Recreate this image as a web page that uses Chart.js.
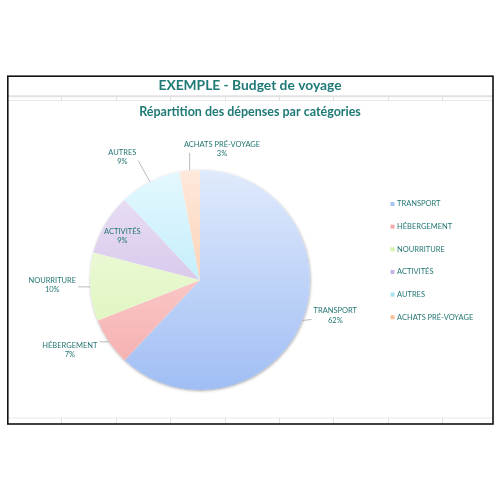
<!DOCTYPE html>
<html>
<head>
<meta charset="utf-8">
<script src="https://cdn.jsdelivr.net/npm/chart.js@4"></script>
<style>
html,body{margin:0;padding:0;background:#fff;}
#wrap{width:500px;height:500px;}
</style>
</head>
<body>
<div id="wrap"><canvas id="c" width="500" height="500"></canvas></div>
<script>
// ---- data ----
const chartTitle = "EXEMPLE - Budget de voyage";
const chartSubtitle = "Répartition des dépenses par catégories";
const categories = ["TRANSPORT", "HÉBERGEMENT", "NOURRITURE", "ACTIVITÉS", "AUTRES", "ACHATS PRÉ-VOYAGE"];
const shares = [62, 7, 10, 9, 9, 3];

// ---- styles ----
const topColors = ["#e0eafc", "#fde2e2", "#f5fce9", "#ece3f6", "#e4f8fe", "#fee9dc"];
const bottomColors = ["#a0bef4", "#f5aaaa", "#d7f3b0", "#c6b2e3", "#a6e5f8", "#f8bd95"];
const legendColors = ["#a9c4f0", "#f4a9a9", "#d4f2a6", "#c7b5e2", "#a6e3f4", "#f8bf98"];
const textColor = "#237673";
const titleColor = "#1f7a76";
const FONT = "Lato";
const labelPlace = [
  {out: 28, dx: 7, dy: -15},
  {out: 28, dx: -16, dy: -7.5},
  {out: 28, dx: -10, dy: -3.5},
  {inside: 0.82, dx: 0, dy: 2},
  {out: 28, dx: -15, dy: 0},
  {out: 28, dx: 35, dy: 6.5}
];
const PIE_R = 110;
const RIGHT_RESERVE = 100;

function sliceFill(ctx) {
  const i = ctx.dataIndex;
  const chart = ctx.chart;
  const ca = chart.chartArea;
  if (!ca || i === undefined) return legendColors[i || 0];
  const cy = (ca.top + ca.bottom) / 2;
  const g = chart.ctx.createLinearGradient(0, cy - PIE_R, 0, cy + PIE_R);
  g.addColorStop(0, topColors[i]);
  g.addColorStop(1, bottomColors[i]);
  return g;
}

// reserves space at the right (legend column) without shifting the titles
const reservePlugin = {
  id: 'rightReserve',
  beforeInit(chart) {
    const box = {
      position: 'right', weight: 0, fullSize: false, options: {},
      width: RIGHT_RESERVE, height: 0, left: 0, top: 0, right: 0, bottom: 0,
      update(maxWidth, maxHeight) { this.width = RIGHT_RESERVE; this.height = maxHeight; },
      isHorizontal() { return false; },
      draw() {}
    };
    Chart.layouts.addBox(chart, box);
  }
};

const framePlugin = {
  id: 'frame',
  beforeDraw(chart) {
    const c = chart.ctx;
    c.save();
    c.fillStyle = '#ffffff';
    c.fillRect(0, 0, chart.width, chart.height);
    const cols = [61, 116, 170, 225, 279, 333, 388, 442];
    c.strokeStyle = '#e2e2e2';
    c.lineWidth = 2;
    c.beginPath(); c.moveTo(8, 96.3); c.lineTo(493, 96.3); c.stroke();
    c.strokeStyle = '#eaeaea';
    c.lineWidth = 1;
    c.beginPath(); c.moveTo(8, 100.5); c.lineTo(493, 100.5); c.stroke();
    c.beginPath(); c.moveTo(8, 418); c.lineTo(493, 418); c.stroke();
    c.strokeStyle = '#e0e0e0';
    cols.forEach(x => {
      c.beginPath(); c.moveTo(x + 0.5, 96); c.lineTo(x + 0.5, 101); c.stroke();
      c.beginPath(); c.moveTo(x + 0.5, 418); c.lineTo(x + 0.5, 424); c.stroke();
    });
    c.strokeStyle = '#111111';
    c.lineWidth = 1.6;
    c.strokeRect(7.8, 76.2, 485.2, 347.8);
    c.restore();
  }
};

const shadowPlugin = {
  id: 'pieShadow',
  beforeDatasetsDraw(chart) {
    const arc = chart.getDatasetMeta(0).data[0];
    if (!arc) return;
    const c = chart.ctx;
    c.save();
    c.shadowColor = 'rgba(0,0,0,0.35)';
    c.shadowBlur = 3;
    c.shadowOffsetX = 0.5;
    c.shadowOffsetY = 1;
    c.fillStyle = '#ffffff';
    c.beginPath();
    c.arc(arc.x, arc.y, arc.outerRadius, 0, Math.PI * 2);
    c.fill();
    c.restore();
  }
};

const labelPlugin = {
  id: 'sliceLabels',
  afterDatasetsDraw(chart) {
    const c = chart.ctx;
    const meta = chart.getDatasetMeta(0);
    const data = chart.data.datasets[0].data;
    const total = data.reduce((a, b) => a + b, 0);
    c.save();
    c.font = "7.5px " + FONT;
    c.textAlign = 'center';
    c.textBaseline = 'middle';
    meta.data.forEach((arc, i) => {
      const p = arc.getProps(['x', 'y', 'startAngle', 'endAngle', 'outerRadius'], true);
      const mid = (p.startAngle + p.endAngle) / 2;
      const cos = Math.cos(mid), sin = Math.sin(mid);
      const st = labelPlace[i];
      let lx, ly;
      if (st.inside) {
        lx = p.x + p.outerRadius * st.inside * cos + st.dx;
        ly = p.y + p.outerRadius * st.inside * sin + st.dy;
      } else {
        lx = p.x + (p.outerRadius + st.out) * cos + st.dx;
        ly = p.y + (p.outerRadius + st.out) * sin + st.dy;
      }
      const l1 = chart.data.labels[i];
      const l2 = Math.round(data[i] / total * 100) + '%';
      const w = Math.max(c.measureText(l1).width, c.measureText(l2).width);
      const lh = 9.5;
      if (!st.inside) {
        const ex = p.x + p.outerRadius * cos, ey = p.y + p.outerRadius * sin;
        const bx0 = lx - w / 2 - 2, bx1 = lx + w / 2 + 2;
        const by0 = ly - lh - 1, by1 = ly + lh / 2 - 1;
        const nx = Math.min(Math.max(ex, bx0), bx1);
        const ny = Math.min(Math.max(ey, by0), by1);
        c.strokeStyle = '#a8a8a8';
        c.lineWidth = 0.8;
        c.beginPath(); c.moveTo(ex, ey); c.lineTo(nx, ny); c.stroke();
      }
      c.fillStyle = textColor;
      c.fillText(l1, lx, ly - lh / 2);
      c.fillText(l2, lx, ly + lh / 2);
    });
    c.restore();
  }
};

const legendPlugin = {
  id: 'sideLegend',
  afterDraw(chart) {
    const c = chart.ctx;
    c.save();
    c.font = "7.5px " + FONT;
    c.textAlign = 'left';
    c.textBaseline = 'middle';
    chart.data.labels.forEach((lab, i) => {
      const y = 204 + i * 22.65;
      c.fillStyle = legendColors[i];
      c.fillRect(390.5, y - 2, 4, 4);
      c.fillStyle = textColor;
      c.fillText(lab, 397, y);
    });
    c.restore();
  }
};

new Chart(document.getElementById('c'), {
  type: 'pie',
  data: {
    labels: categories,
    datasets: [{
      data: shares,
      backgroundColor: sliceFill,
      borderWidth: 0,
      radius: PIE_R
    }]
  },
  options: {
    responsive: false,
    animation: false,
    layout: {padding: {left: 0, right: 0, top: 0, bottom: 60}},
    plugins: {
      legend: {display: false},
      tooltip: {enabled: false},
      title: {
        display: true, text: chartTitle, color: titleColor,
        font: {family: FONT, size: 13.8, weight: 'bold', lineHeight: 1.3},
        padding: {top: 77, bottom: 0}
      },
      subtitle: {
        display: true, text: chartSubtitle, color: titleColor,
        font: {family: FONT, size: 12.5, weight: 'bold', lineHeight: 1.2},
        padding: {top: 10, bottom: 0}
      }
    }
  },
  plugins: [reservePlugin, framePlugin, shadowPlugin, labelPlugin, legendPlugin]
});
</script>
</body>
</html>
